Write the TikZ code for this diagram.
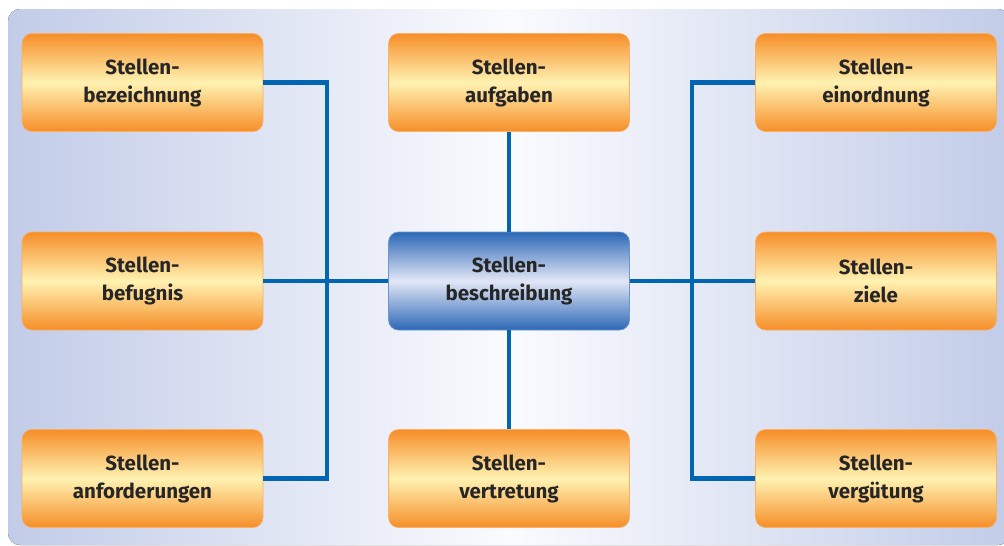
\documentclass[tikz,border=0pt]{standalone}
\usepackage{fontspec}
\setmainfont{Fira Sans}
\definecolor{bgside}{RGB}{194,204,232}
\definecolor{bgmid}{RGB}{250,251,254}
\definecolor{orgedge}{RGB}{246,142,40}
\definecolor{orgmid}{RGB}{255,242,178}
\definecolor{bluedge}{RGB}{44,104,182}
\definecolor{blumid}{RGB}{226,231,246}
\definecolor{linkblue}{RGB}{0,102,179}
\tikzset{
  obox/.style={rounded corners=10pt, minimum width=241pt, minimum height=98pt,
    top color=orgedge, bottom color=orgedge, middle color=orgmid,
    draw=orgedge!70!white, line width=0.6pt,
    align=center, font=\fontsize{20.5}{28}\selectfont\bfseries, text=black!85},
  cbox/.style={obox, top color=bluedge, bottom color=bluedge, middle color=blumid,
    draw=bluedge!70!white},
  link/.style={draw=linkblue, line width=4.5pt}
}
\begin{document}
\begin{tikzpicture}[x=1pt,y=-1pt]
\useasboundingbox (0,0) rectangle (1004,546);
\fill[left color=bgside, right color=bgside, middle color=bgmid, rounded corners=12pt]
  (8,9) rectangle (1010,545);
\coordinate (lv) at (327,0);
\coordinate (rv) at (692,0);
\node[obox] (a) at (142.5,82.5) {Stellen-\\bezeichnung};
\node[obox] (b) at (142.5,281) {Stellen-\\befugnis};
\node[obox] (c) at (142.5,478.5) {Stellen-\\anforderungen};
\node[obox] (d) at (509,82.5) {Stellen-\\aufgaben};
\node[cbox] (m) at (509,281) {Stellen-\\beschreibung};
\node[obox] (e) at (509,478.5) {Stellen-\\vertretung};
\node[obox] (f) at (876,82.5) {Stellen-\\einordnung};
\node[obox] (g) at (876,281) {Stellen-\\ziele};
\node[obox] (h) at (876,478.5) {Stellen-\\vergütung};
\draw[link] (a.east) -- (a.east -| lv) -- (c.east -| lv) -- (c.east);
\draw[link] (b.east) -- (m.west);
\draw[link] (d.south) -- (m.north);
\draw[link] (m.south) -- (e.north);
\draw[link] (f.west) -- (f.west -| rv) -- (h.west -| rv) -- (h.west);
\draw[link] (m.east) -- (g.west);
\end{tikzpicture}
\end{document}
